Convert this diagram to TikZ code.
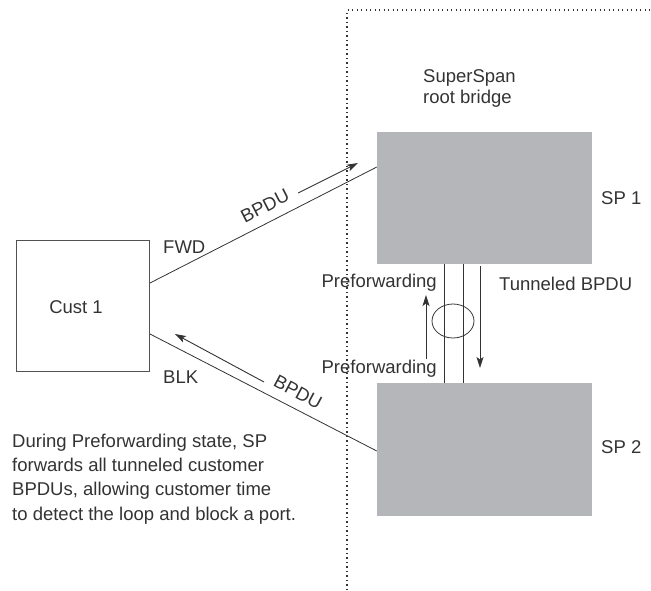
\documentclass[tikz,border=0pt]{standalone}
\usepackage{fontspec}
\setmainfont{Liberation Sans}
\usetikzlibrary{arrows.meta,shapes.geometric,calc}
\definecolor{ink}{HTML}{333333}
\definecolor{boxgray}{HTML}{B5B6BA}
\begin{document}
\begin{tikzpicture}[x=1pt,y=-1pt,
  every node/.style={text=ink, font=\fontsize{18.5}{24.3}\selectfont, inner sep=0pt},
  custbox/.style={draw=ink!85, line width=1pt, minimum width=133pt, minimum height=131pt},
  spbox/.style={fill=boxgray, minimum width=215pt, minimum height=132pt},
  link/.style={draw=ink, line width=0.8pt},
  msg/.style={draw=ink, line width=0.9pt, -{Stealth[length=11pt,width=7pt,inset=2.5pt]}},
  boundary/.style={draw=ink, line width=1.2pt, dash pattern=on 1.2pt off 3.3pt},
  ring/.style={ellipse, draw=ink, line width=0.8pt, minimum width=42pt, minimum height=34pt}]
\useasboundingbox (0,0) rectangle (651,590);

% domain boundary
\coordinate (bb) at (347,590);
\coordinate (bc) at (347,10);
\coordinate (br) at (651,10);
\draw[boundary] (bb) -- (bc) -- (br);

% boxes
\node[custbox] (cust) at (83,306) {};
\node[spbox] (sp1) at (484.5,198) {};
\node[spbox, minimum height=133pt] (sp2) at (484.5,449.5) {};

% labels
\node[anchor=base] (custlabel) at (76,313.6) {Cust 1};
\node[anchor=base west] (sp1label) at (601,204.6) {SP 1};
\node[anchor=base west] (sp2label) at (601,453.6) {SP 2};
\node[anchor=base west] (rootlabel) at (423,82) {SuperSpan};
\node[anchor=base west] (rootlabel2) at (423,103.3) {root bridge};
\node[anchor=base west] (fwd) at (163,253.6) {FWD};
\node[anchor=base west] (blk) at (163,383.6) {BLK};

% customer links
\draw[link] ([yshift=23pt]cust.east) -- ([yshift=31pt]sp1.west);
\draw[link] ([yshift=-28pt]cust.east) -- ([yshift=-1.5pt]sp2.west);

% BPDU messages
\coordinate (m1s) at (298,193);
\coordinate (m1e) at (358,163);
\draw[msg] (m1s) -- (m1e);
\node[rotate=27] (bpdu1) at (265,206) {BPDU};
\coordinate (m2s) at (264,382);
\coordinate (m2e) at (175,334);
\draw[msg] (m2s) -- (m2e);
\node[rotate=-28] (bpdu2) at (298,392) {BPDU};

% tunnel between SP1 and SP2
\draw[link] ([xshift=-40.5pt]sp1.south) -- ([xshift=-40.5pt]sp2.north);
\draw[link] ([xshift=-21.5pt]sp1.south) -- ([xshift=-21.5pt]sp2.north);
\node[ring] (tunnelring) at (453,321) {};
\coordinate (u1) at (426,359);
\coordinate (u2) at (426,295);
\draw[msg] (u1) -- (u2);
\coordinate (d1) at (480,266);
\coordinate (d2) at (480,368);
\draw[msg] (d1) -- (d2);
\node[anchor=base east] (pre1) at (437,287) {Preforwarding};
\node[anchor=base east] (pre2) at (437,373) {Preforwarding};
\node[anchor=base west] (tun) at (499,290) {Tunneled BPDU};

% note
\node[anchor=north west, align=left] (note) at (12,433.5)
  {During Preforwarding state, SP\\forwards all tunneled customer\\BPDUs, allowing customer time\\to detect the loop and block a port.};
\end{tikzpicture}
\end{document}
